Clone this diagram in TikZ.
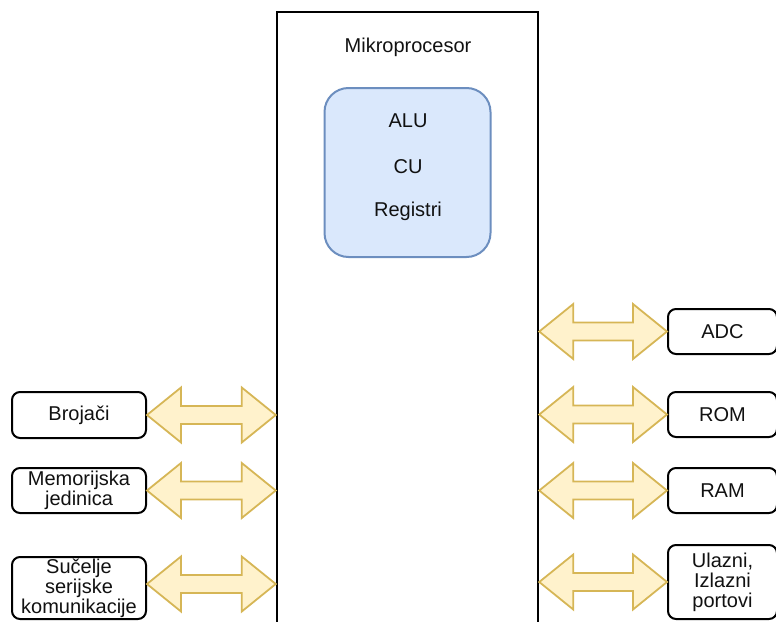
\documentclass[tikz,border=0pt]{standalone}
\usepackage{fontspec}
\setmainfont{Liberation Sans}
\usetikzlibrary{calc}
\definecolor{arrowfill}{HTML}{FFF2CC}
\definecolor{arrowdraw}{HTML}{D6B656}
\definecolor{bluefill}{HTML}{DAE8FC}
\definecolor{bluedraw}{HTML}{6C8EBF}
\definecolor{txt}{HTML}{111111}
\begin{document}
\begin{tikzpicture}[x=1pt,y=-1pt,
  box/.style={draw=black, line width=2pt, rounded corners=8pt, fill=white, align=center,
    font=\fontsize{20}{20}\selectfont, text=txt, inner sep=0pt},
  lbl/.style={text=txt, font=\fontsize{20}{20}\selectfont, inner sep=0pt},
  dbl/.style={draw=arrowdraw, fill=arrowfill, line width=1.8pt, line join=miter,
    to path={(\tikztostart) -- ++(34,-27.5) -- ++(0,18.5) -- ($(\tikztotarget)+(-34,-9)$)
      -- ++(0,-18.5) -- (\tikztotarget) -- ++(-34,27.5) -- ++(0,-18.5)
      -- ($(\tikztostart)+(34,9)$) -- ++(0,18.5) -- cycle}}]
\useasboundingbox (0,0) rectangle (776,621);
% microprocessor
\node[draw=black, line width=2.5pt, minimum width=261pt, minimum height=628pt, inner sep=0pt]
  (mp) at (407.5,326) {};
\node[lbl] (mptitle) at (408,47) {Mikroprocesor};
\node[draw=bluedraw, fill=bluefill, line width=2pt, rounded corners=24pt,
  minimum width=166pt, minimum height=169pt, inner sep=0pt] (core) at (407.5,172.5) {};
\node[lbl] (alu) at (408,121) {ALU};
\node[lbl] (cu) at (408,167) {CU};
\node[lbl] (reg) at (408,211) {Registri};
% left boxes
\node[box, minimum width=134pt, minimum height=46pt] (brj) at (79,415) {Brojači};
\node[box, minimum width=134pt, minimum height=45pt] (mem) at (79,490.5) {Memorijska\\jedinica};
\node[box, minimum width=134pt, minimum height=62pt] (suc) at (79,588) {Sučelje\\serijske\\komunikacije};
% right boxes
\node[box, minimum width=109pt, minimum height=45pt] (adc) at (722.5,331.5) {ADC};
\node[box, minimum width=109pt, minimum height=45pt] (rom) at (722.5,414.5) {ROM};
\node[box, minimum width=109pt, minimum height=45pt] (ram) at (722.5,490.5) {RAM};
\node[box, minimum width=109pt, minimum height=74pt] (ulz) at (722.5,582) {Ulazni,\\Izlazni\\portovi};
% arrow end points
\coordinate (brjM) at (brj.east -| mp.west);
\coordinate (memM) at (mem.east -| mp.west);
\coordinate (sucB) at ([yshift=4pt]suc.east);
\coordinate (sucM) at (sucB -| mp.west);
\coordinate (adcM) at (adc.west -| mp.east);
\coordinate (romM) at (rom.west -| mp.east);
\coordinate (ramM) at (ram.west -| mp.east);
\coordinate (ulzM) at (ulz.west -| mp.east);
% arrows
\draw[dbl] (brj.east) to (brjM);
\draw[dbl] (mem.east) to (memM);
\draw[dbl] (sucB) to (sucM);
\draw[dbl] (adcM) to (adc.west);
\draw[dbl] (romM) to (rom.west);
\draw[dbl] (ramM) to (ram.west);
\draw[dbl] (ulzM) to (ulz.west);
\end{tikzpicture}
\end{document}
